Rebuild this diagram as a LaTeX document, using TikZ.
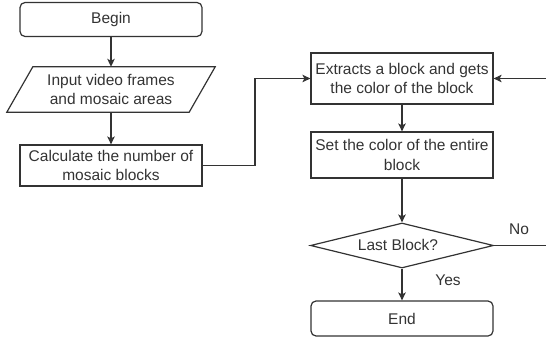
\documentclass[tikz,border=0pt]{standalone}
\usepackage{fontspec}
\setmainfont{Liberation Sans}
\usetikzlibrary{arrows.meta,shapes.geometric}
\definecolor{ink}{HTML}{333333}
\begin{document}
\begin{tikzpicture}[x=1pt,y=-1pt,
  every node/.style={text=ink,font=\fontsize{15.5}{19.5}\selectfont,inner sep=0pt,align=center},
  box/.style={draw=ink,line width=1.2pt,minimum width=182pt},
  roundbox/.style={box,rounded corners=5pt},
  decision/.style={draw=ink,line width=1.2pt,diamond,aspect=4.07,minimum width=183pt,minimum height=45pt},
  conn/.style={draw=ink,line width=1.2pt},
  arr/.style={conn,-{Stealth[length=8pt,width=7.5pt,inset=2pt]}}]
\useasboundingbox (0,0) rectangle (546,339);

% left column
\node[roundbox,minimum height=34pt] (begin) at (111,19.5) {Begin};
\node[minimum width=182pt,minimum height=45pt] (input) at (111,89.5) {Input video frames\\and mosaic areas};
\draw[conn] ([xshift=13pt]input.north west) -- ([xshift=13pt]input.north east)
  -- ([xshift=-13pt]input.south east) -- ([xshift=-13pt]input.south west) -- cycle;
\node[box,minimum height=41pt] (calc) at (111,165.5) {Calculate the number of\\mosaic blocks};

% right column
\node[box,minimum height=51pt] (extract) at (402,78.5) {Extracts a block and gets\\the color of the block};
\node[box,minimum height=46pt] (setc) at (402,155) {Set the color of the entire\\block};
\node[decision] (last) at (402,245.5) {};
\node at (398,245) {Last Block?};
\node[roundbox,minimum height=35pt] (finish) at (402,318.5) {End};

\coordinate (bend) at (255,78.5);
\coordinate (loopin) at (546,78.5);
\coordinate (loopout) at (546,245.5);

% connectors
\draw[arr] (begin) -- (input);
\draw[arr] (input) -- (calc);
\draw[arr] (calc.east) -| (bend) -- (extract.west);
\draw[arr] (extract) -- (setc);
\draw[arr] (setc) -- (last);
\draw[arr] (last) -- (finish);
\draw[conn] (last.east) -- (loopout);
\draw[arr] (loopin) -- (extract.east);

% branch labels
\node (no) at (519,229) {No};
\node (yes) at (448,280) {Yes};
\end{tikzpicture}
\end{document}
